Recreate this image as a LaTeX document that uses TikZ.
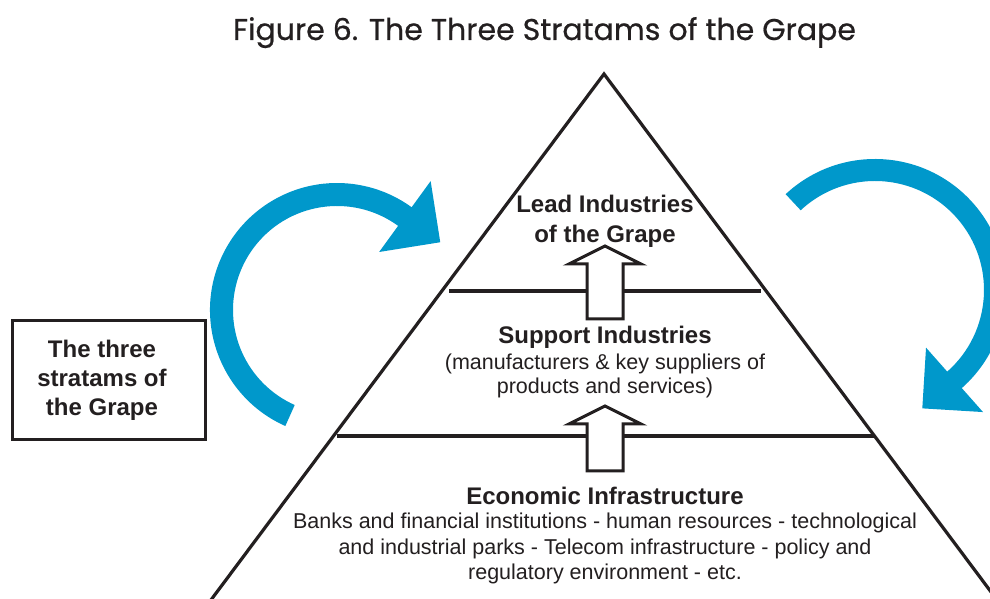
\documentclass[tikz,border=0pt]{standalone}
\usepackage{fontspec}
\setmainfont{Liberation Sans}
\newfontfamily\titlefont[FakeBold=0.6]{Poppins}
\usetikzlibrary{calc}
\definecolor{ink}{HTML}{231F20}
\definecolor{cycleblue}{HTML}{0098CB}
\begin{document}
\begin{tikzpicture}[x=1pt,y=1pt,
  edge/.style={draw=ink, line width=3.2pt},
  blockup/.style={draw=ink, fill=white, line width=3pt, line join=miter},
  cyclearrow/.style={fill=cycleblue, draw=none},
  tierhead/.style={anchor=base, text=ink, font=\bfseries\fontsize{24}{29}\selectfont, inner sep=0},
  tiertext/.style={anchor=base, text=ink, font=\fontsize{21.5}{25}\selectfont, inner sep=0},
  legendbox/.style={draw=ink, line width=3pt, minimum width=193, minimum height=119, inner sep=0}]
\clip (0,0) rectangle (990,599);
\fill[white] (0,0) rectangle (990,599);

% title
\node[anchor=base, text=ink, font=\titlefont\fontsize{30}{36}\selectfont, inner sep=0] (title) at (544.5,559) {Figure 6. The Three Stratams of the Grape};

% pyramid outline and tier separators
\coordinate (apex) at (604,525);
\coordinate (bl) at (196,-21);
\coordinate (br) at (1012,-21);
\draw[edge, line join=miter] (bl) -- (apex) -- (br);
\coordinate (s1l) at (449,308);
\coordinate (s1r) at (761,308);
\coordinate (s2l) at (337,163);
\coordinate (s2r) at (875,163);
\draw[edge] (s1l) -- (s1r);
\draw[edge] (s2l) -- (s2r);

% upward block arrows between tiers
\coordinate (a1) at (605,280);
\draw[blockup] ($(a1)+(-18,0)$) -- ($(a1)+(-18,55)$) -- ($(a1)+(-36,55)$) -- ($(a1)+(0,73)$)
  -- ($(a1)+(36,55)$) -- ($(a1)+(18,55)$) -- ($(a1)+(18,0)$) -- cycle;
\coordinate (a2) at (605,128);
\draw[blockup] ($(a2)+(-18,0)$) -- ($(a2)+(-18,47)$) -- ($(a2)+(-36,47)$) -- ($(a2)+(0,65)$)
  -- ($(a2)+(36,47)$) -- ($(a2)+(18,47)$) -- ($(a2)+(18,0)$) -- cycle;

% tier labels
\node[tierhead] (lead1) at (605,386) {Lead Industries};
\node[tierhead] (lead2) at (605,356) {of the Grape};
\node[tierhead] (sup1) at (605,255) {Support Industries};
\node[tiertext] (sup2) at (605,229) {(manufacturers \& key suppliers of};
\node[tiertext] (sup3) at (605,205) {products and services)};
\node[tierhead] (eco1) at (605,94) {Economic Infrastructure};
\node[tiertext] (eco2) at (605,70) {Banks and financial institutions - human resources - technological};
\node[tiertext] (eco3) at (605,44) {and industrial parks - Telecom infrastructure - policy and};
\node[tiertext] (eco4) at (605,19) {regulatory environment - etc.};

% legend box
\node[legendbox] (legend) at (108.5,218.5) {};
\node[tierhead] (leg1) at (102,241) {The three};
\node[tierhead] (leg2) at (102,212) {stratams of};
\node[tierhead] (leg3) at (102,183) {the Grape};

% circular arrows on either side
\coordinate (lc) at (337,289);
\fill[cyclearrow] ($(lc)+(246:127)$) arc[start angle=246, end angle=54, radius=127]
  -- ($(lc)+(54:159.3)$) -- ($(lc)+(54:115.5)+(-36:43.7)$) -- ($(lc)+(54:71.7)$)
  -- ($(lc)+(54:104)$) arc[start angle=54, end angle=246, radius=104] -- cycle;
\coordinate (rc) at (875,309);
\fill[cyclearrow] ($(rc)+(133:131)$) arc[start angle=133, end angle=-48.5, radius=131]
  -- ($(rc)+(-48.5:163)$) -- ($(rc)+(-48.5:120)+(-138.5:43)$) -- ($(rc)+(-48.5:77)$)
  -- ($(rc)+(-48.5:109)$) arc[start angle=-48.5, end angle=133, radius=109] -- cycle;
\end{tikzpicture}
\end{document}
